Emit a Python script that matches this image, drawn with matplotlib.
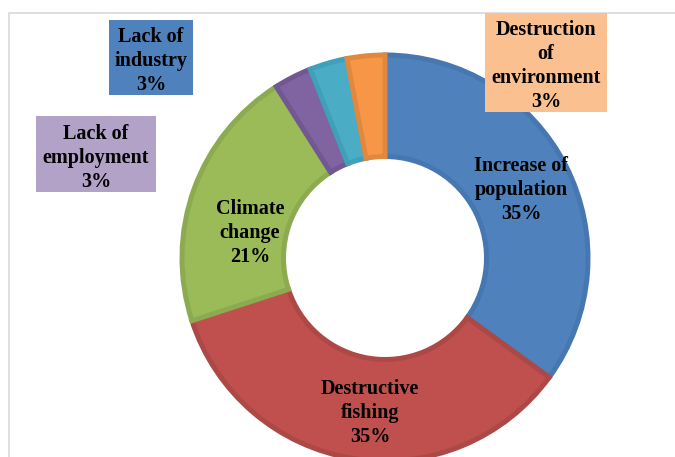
import matplotlib.pyplot as plt
from matplotlib.patches import Rectangle

# Causes and their shares (%)
categories = ["Increase of\npopulation", "Destructive\nfishing", "Climate\nchange",
              "Lack of\nemployment", "Lack of\nindustry", "Destruction\nof\nenvironment"]
shares = [35, 35, 21, 3, 3, 3]

fill_colors = ["#4F81BD", "#C0504D", "#9BBB59", "#8064A2", "#4BACC6", "#F79646"]
edge_colors = ["#4677B0", "#AC4946", "#8CAB50", "#715893", "#41A0B9", "#E0893E"]

# Small slices get their labels in coloured callout boxes: (center x, center y, width, height, colour)
callouts = {
    3: (96, 154, 120, 76, "#B3A2C7"),
    4: (151, 57, 84, 75, "#4F81BD"),
    5: (546, 62, 122, 99, "#FAC090"),
}
# Label centres for the large slices (pixel coordinates from top-left)
inner_label_xy = {0: (521, 190), 1: (370, 413), 2: (250, 233)}

W, H = 675, 457
fig = plt.figure(figsize=(W / 100, H / 100), dpi=100)
ax = fig.add_axes([0, 0, 1, 1])

cx, cy, R = 385, H - 258, 203
wedges, _ = ax.pie(shares, colors=fill_colors, startangle=90, counterclock=False,
                   center=(cx, cy), radius=R, frame=True,
                   wedgeprops=dict(width=R * 0.5, linewidth=3.6))
for w, ec in zip(wedges, edge_colors):
    w.set_edgecolor(ec)

ax.set_xlim(0, W)
ax.set_ylim(0, H)
ax.set_aspect("equal")
ax.axis("off")

font = dict(family="Liberation Serif", weight="bold", size=14.5, color="black",
            ha="center", va="center", linespacing=1.27)

for i, (name, v) in enumerate(zip(categories, shares)):
    label = f"{name}\n{v}%"
    if i in callouts:
        x, y, bw, bh, col = callouts[i]
        ax.add_patch(Rectangle((x - bw / 2, H - y - bh / 2), bw, bh,
                               facecolor=col, edgecolor="none", zorder=3))
        ax.text(x, H - y - 4, label, zorder=4, **font)
    else:
        x, y = inner_label_xy[i]
        ax.text(x, H - y, label, zorder=4, **font)

# Chart area border (top and left)
ax.plot([9, 9, W], [0, H - 13, H - 13], color="#D9D9D9", lw=1.2, zorder=1,
        solid_capstyle="butt")

fig.savefig("out.png", dpi=100)
